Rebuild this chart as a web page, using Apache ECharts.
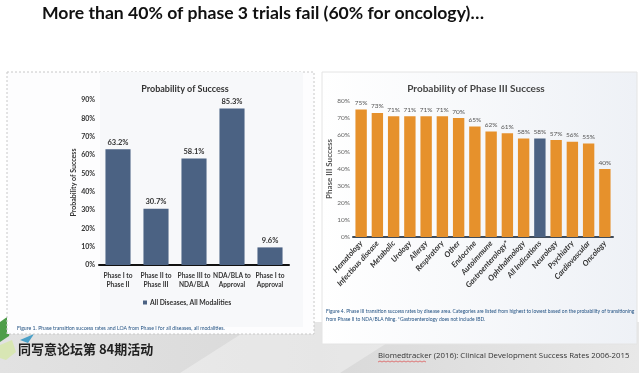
<!DOCTYPE html>
<html>
<head>
<meta charset="utf-8">
<script src="https://cdn.jsdelivr.net/npm/echarts@6/dist/echarts.min.js"></script>
<style>html,body{margin:0;padding:0;background:#fff;}#c{width:639px;height:373px;}</style>
</head>
<body>
<div id="c"></div>
<script>
// Left chart data
var leftCategories = ['Phase I to\nPhase II', 'Phase II to\nPhase III', 'Phase III to\nNDA/BLA', 'NDA/BLA to\nApproval', 'Phase I to\nApproval'];
var leftValues = [63.2, 30.7, 58.1, 85.3, 9.6];
var leftTicks = [0, 10, 20, 30, 40, 50, 60, 70, 80, 90];

// Right chart data
var rightCategories = ['Hematology', 'Infectious disease', 'Metabolic', 'Urology', 'Allergy', 'Respiratory', 'Other', 'Endocrine', 'Autoimmune', 'Gastroenterology*', 'Ophthalmology', 'All Indications', 'Neurology', 'Psychiatry', 'Cardiovascular', 'Oncology'];
var rightValues = [75, 73, 71, 71, 71, 71, 70, 65, 62, 61, 58, 58, 57, 56, 55, 40];
var rightTicks = [0, 10, 20, 30, 40, 50, 60, 70, 80];
var highlightCategory = 'All Indications';

var BLUE = '#4b6283';
var ORANGE = '#e6912c';
var FN = "'Lato', sans-serif";

var chart = echarts.init(document.getElementById('c'), null, {renderer: 'canvas'});

var rightData = rightValues.map(function (v, i) {
  return {value: v, itemStyle: {color: rightCategories[i] === highlightCategory ? BLUE : ORANGE}};
});

chart.setOption({
  animation: false,
  backgroundColor: '#ffffff',
  graphic: [
    // bottom slide band
    {type: 'rect', z: -10, shape: {x: 0, y: 322, width: 639, height: 51},
      style: {fill: new echarts.graphic.LinearGradient(0, 0, 1, 0, [{offset: 0, color: '#e2e2e2'}, {offset: 0.5, color: '#d9d9d9'}, {offset: 1, color: '#e8e8e8'}])}},
    {type: 'polygon', z: -9, shape: {points: [[180, 373], [260, 322], [420, 322], [340, 373]]}, style: {fill: 'rgba(255,255,255,0.35)'}},
    // green leaves
    {type: 'polygon', z: -8, shape: {points: [[0, 322], [14, 312], [9, 336], [0, 342]]}, style: {fill: '#4f9d4a'}},
    {type: 'polygon', z: -8, shape: {points: [[0, 345], [12, 340], [16, 352], [6, 360], [0, 358]]}, style: {fill: '#d8e6b4'}},
    {type: 'polygon', z: -8, shape: {points: [[20, 340], [34, 334], [28, 343]]}, style: {fill: '#4aa0c8'}},
    // left panel
    {type: 'rect', z: -7, shape: {x: 7, y: 72, width: 307, height: 262},
      style: {fill: '#fdfdfe', stroke: '#c8c8c8', lineWidth: 1, lineDash: [2, 2]}},
    {type: 'rect', z: -6, shape: {x: 100, y: 72, width: 203, height: 255}, style: {fill: '#f7f8fa'}},
    // right panel
    {type: 'rect', z: -7, shape: {x: 322, y: 72, width: 315, height: 272},
      style: {fill: new echarts.graphic.LinearGradient(0, 0, 1, 0, [{offset: 0, color: '#ffffff'}, {offset: 1, color: '#eef1f6'}]), stroke: '#e4e4e4', lineWidth: 1}},
    // main title
    {type: 'text', x: 42, y: 4, style: {text: 'More than 40% of phase 3 trials fail (60% for oncology)\u2026', font: "bold 17.6px 'Lato', 'Open Sans', sans-serif", fill: '#111'}},
    // captions
    {type: 'text', x: 17, y: 326, style: {text: 'Figure 1. Phase transition success rates and LOA from Phase I for all diseases, all modalities.', font: "5.2px " + FN, fill: '#1f4f80'}},
    {type: 'text', x: 326, y: 307, style: {text: 'Figure 4. Phase III transition success rates by disease area. Categories are listed from highest to lowest based on the probability of transitioning\nfrom Phase II to NDA/BLA filing. *Gastroenterology does not include IBD.', font: "4.95px " + FN, fill: '#1f4f80', lineHeight: 8}},
    // footer
    {type: 'text', x: 18, y: 343, style: {text: '同写意论坛第 84期活动', font: "bold 13px 'Noto Sans CJK SC', sans-serif", fill: '#222'}},
    {type: 'text', x: 378, y: 352, style: {text: 'Biomedtracker (2016): Clinical Development Success Rates 2006-2015', font: "7.8px 'Open Sans', sans-serif", fill: '#333'}},
    {type: 'polyline', shape: {points: [[378, 362], [380, 361], [382, 362], [384, 361], [386, 362], [388, 361], [390, 362], [392, 361], [394, 362], [396, 361], [398, 362], [400, 361], [402, 362], [404, 361], [406, 362], [408, 361], [410, 362], [412, 361], [414, 362], [416, 361], [418, 362], [420, 361], [422, 362], [424, 361], [426, 362]]}, style: {stroke: '#d33', lineWidth: 0.6, fill: null}}
  ],
  title: [
    {text: 'Probability of Success', left: 180, top: 80, textAlign: 'center', textStyle: {fontFamily: FN, fontSize: 9, fontWeight: 'bold', color: '#333'}},
    {text: 'Probability of Phase III Success', left: 471, top: 79, textAlign: 'center', textStyle: {fontFamily: FN, fontSize: 10, fontWeight: 'bold', color: '#444'}}
  ],
  legend: {
    data: ['All Diseases, All Modalities'],
    left: 138, top: 294, itemWidth: 4, itemHeight: 4, itemGap: 3,
    icon: 'rect',
    textStyle: {fontFamily: FN, fontSize: 6.8, fontWeight: 'bold', color: '#333', padding: [0, 0, 0, -2]}
  },
  grid: [
    {left: 99, right: 350, top: 100, bottom: 108},
    {left: 353, right: 26, top: 101, bottom: 136}
  ],
  xAxis: [
    {type: 'category', gridIndex: 0, data: leftCategories,
      axisLine: {lineStyle: {color: '#111', width: 2}}, axisTick: {show: false},
      axisLabel: {interval: 0, fontFamily: FN, fontSize: 6.6, fontWeight: 'bold', color: '#333', lineHeight: 9, margin: 6}},
    {type: 'category', gridIndex: 1, data: rightCategories,
      axisLine: {lineStyle: {color: '#3f4b5a', width: 2}}, axisTick: {show: false},
      axisLabel: {interval: 0, rotate: 48, fontFamily: FN, fontSize: 7.8, fontWeight: 'bold', fontStyle: 'italic', color: '#333', margin: 5}}
  ],
  yAxis: [
    {type: 'value', gridIndex: 0, min: leftTicks[0], max: leftTicks[leftTicks.length - 1], interval: 10,
      name: 'Probability of Success', nameLocation: 'middle', nameGap: 19, nameRotate: 90,
      nameTextStyle: {fontFamily: FN, fontSize: 7, fontWeight: 'bold', color: '#333'},
      axisLine: {show: false}, axisTick: {show: false}, splitLine: {show: false},
      axisLabel: {formatter: '{value}%', fontFamily: FN, fontSize: 7, fontWeight: 'bold', color: '#333', margin: 4}},
    {type: 'value', gridIndex: 1, min: rightTicks[0], max: rightTicks[rightTicks.length - 1], interval: 10,
      name: 'Phase III Success', nameLocation: 'middle', nameGap: 18, nameRotate: 90,
      nameTextStyle: {fontFamily: FN, fontSize: 8, fontWeight: 'bold', color: '#555'},
      axisLine: {show: false}, axisTick: {show: false}, splitLine: {show: false},
      axisLabel: {formatter: '{value}%', fontFamily: FN, fontSize: 6.5, color: '#666', margin: 3}}
  ],
  series: [
    {name: 'All Diseases, All Modalities', type: 'bar', xAxisIndex: 0, yAxisIndex: 0, data: leftValues,
      barCategoryGap: '34%', itemStyle: {color: BLUE},
      label: {show: true, position: 'top', distance: 3, formatter: '{c}%', fontFamily: FN, fontSize: 7.5, fontWeight: 'bold', color: '#333'}},
    {name: 'Phase III', type: 'bar', xAxisIndex: 1, yAxisIndex: 1, data: rightData,
      barCategoryGap: '30%',
      label: {show: true, position: 'top', distance: 3, formatter: '{c}%', fontFamily: FN, fontSize: 6.5, color: '#555'}}
  ]
});
</script>
</body>
</html>
